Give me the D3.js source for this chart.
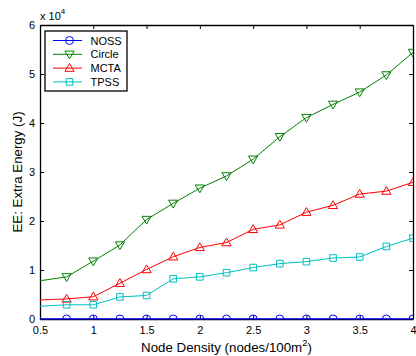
<!DOCTYPE html>
<html>
<head>
<meta charset="utf-8">
<script src="https://cdn.jsdelivr.net/npm/d3@7"></script>
<style>
  html, body { margin: 0; padding: 0; background: #fff; }
  svg { display: block; font-family: "Liberation Sans", Arial, Helvetica, sans-serif; }
</style>
</head>
<body>
<svg id="chart" width="416" height="356"></svg>
<script>
// Node density (nodes/100m^2)
const density = [0.5, 0.75, 1, 1.25, 1.5, 1.75, 2, 2.25, 2.5, 2.75, 3, 3.25, 3.5, 3.75, 4];

// Extra energy, in units of 1e4 J
const noss   = [0, 0, 0, 0, 0, 0, 0, 0, 0, 0, 0, 0, 0, 0, 0];
const circle = [0.78, 0.86, 1.18, 1.51, 2.03, 2.36, 2.67, 2.92, 3.26, 3.72, 4.11, 4.38, 4.63, 4.98, 5.44];
const mcta   = [0.39, 0.41, 0.455, 0.73, 1.01, 1.27, 1.46, 1.56, 1.83, 1.92, 2.18, 2.32, 2.55, 2.61, 2.79];
const tpss   = [0.26, 0.29, 0.29, 0.45, 0.48, 0.82, 0.86, 0.945, 1.05, 1.13, 1.17, 1.245, 1.265, 1.48, 1.65];

const seriesNames = ["NOSS", "Circle", "MCTA", "TPSS"];
const xTicks = [0.5, 1, 1.5, 2, 2.5, 3, 3.5, 4];
const yTicks = [0, 1, 2, 3, 4, 5, 6];

const series = [
  { name: seriesNames[0], values: noss,   color: "#0000ff", marker: "circle" },
  { name: seriesNames[1], values: circle, color: "#008000", marker: "tdown" },
  { name: seriesNames[2], values: mcta,   color: "#ff0000", marker: "tup" },
  { name: seriesNames[3], values: tpss,   color: "#00bfbf", marker: "square" }
];

const svg = d3.select("#chart");
const plot = { left: 40, right: 413, top: 25, bottom: 319 };

const x = d3.scaleLinear().domain([0.5, 4]).range([plot.left, plot.right]);
const y = d3.scaleLinear().domain([0, 6]).range([plot.bottom, plot.top]);

svg.append("defs").append("clipPath").attr("id", "plotClip")
  .append("rect")
  .attr("x", plot.left).attr("y", plot.top)
  .attr("width", plot.right - plot.left).attr("height", plot.bottom - plot.top);

// Marker shape drawn around (0,0)
function markerPath(kind) {
  const r = 4;
  if (kind === "circle") return d3.symbol(d3.symbolCircle, Math.PI * r * r)();
  if (kind === "square") return `M${-3.3},${-3.3}H3.3V3.3H-3.3Z`;
  if (kind === "tup") return `M0,${-4.6}L4.6,3.2L-4.6,3.2Z`;
  if (kind === "tdown") return `M0,4.6L4.6,-3.2L-4.6,-3.2Z`;
}

const fontTick = 11;
const numFmt = d3.format("");

// Axes (ticks inside, box on)
const gx = svg.append("g").attr("transform", `translate(0,${plot.bottom})`)
  .call(d3.axisBottom(x).tickValues(xTicks).tickSizeInner(-4).tickSizeOuter(0).tickPadding(5)
    .tickFormat(numFmt));
const gxTop = svg.append("g").attr("transform", `translate(0,${plot.top})`)
  .call(d3.axisTop(x).tickValues(xTicks).tickSizeInner(-4).tickSizeOuter(0).tickFormat(""));
const gy = svg.append("g").attr("transform", `translate(${plot.left},0)`)
  .call(d3.axisLeft(y).tickValues(yTicks).tickSizeInner(-4).tickSizeOuter(0).tickPadding(5)
    .tickFormat(numFmt));
const gyRight = svg.append("g").attr("transform", `translate(${plot.right},0)`)
  .call(d3.axisRight(y).tickValues(yTicks).tickSizeInner(-4).tickSizeOuter(0).tickFormat(""));

[gx, gxTop, gy, gyRight].forEach(g => {
  g.select(".domain").attr("stroke", "#000").attr("stroke-width", 1.3);
  g.selectAll(".tick line").attr("stroke", "#000").attr("stroke-width", 1);
  g.selectAll(".tick text").attr("fill", "#000").style("font-size", fontTick + "px")
    .style("font-family", "'Liberation Sans', Arial, sans-serif");
});
gx.selectAll(".tick text").attr("dy", "0.9em");

// Exponent label above the y axis
const expo = svg.append("text").attr("x", 40).attr("y", 20)
  .style("font-size", "11px").attr("fill", "#000");
expo.append("tspan").text("x 10");
expo.append("tspan").attr("dy", -6).style("font-size", "8px").text("4");

// Axis titles
svg.append("text")
  .attr("x", (plot.left + plot.right) / 2).attr("y", 352)
  .attr("text-anchor", "middle").style("font-size", "13.3px").attr("fill", "#000")
  .call(t => {
    t.append("tspan").text("Node Density (nodes/100m");
    t.append("tspan").attr("dy", -6).style("font-size", "9.5px").text("2");
    t.append("tspan").attr("dy", 6).text(")");
  });

svg.append("text")
  .attr("transform", `translate(22,${(plot.top + plot.bottom) / 2}) rotate(-90)`)
  .attr("text-anchor", "middle").style("font-size", "13.3px").attr("fill", "#000")
  .text("EE: Extra Energy (J)");

// Series lines and markers
const line = d3.line().x(d => x(d.x)).y(d => y(d.y));
const plotG = svg.append("g").attr("clip-path", "url(#plotClip)");

series.forEach(s => {
  const pts = density.map((d, i) => ({ x: d, y: s.values[i] }));
  plotG.append("path").datum(pts)
    .attr("d", line).attr("fill", "none")
    .attr("stroke", s.color).attr("stroke-width", 1);
  // markers start at the second sample
  plotG.selectAll(null).data(pts.slice(1)).enter().append("path")
    .attr("transform", d => `translate(${x(d.x)},${y(d.y)})`)
    .attr("d", markerPath(s.marker))
    .attr("fill", "none").attr("stroke", s.color).attr("stroke-width", 1);
});

// Redraw the bottom axis line on top of the NOSS series
svg.append("line")
  .attr("x1", plot.left).attr("x2", plot.right)
  .attr("y1", plot.bottom).attr("y2", plot.bottom)
  .attr("stroke", "#0000ff").attr("stroke-width", 1.2);

// Legend
const legend = svg.append("g").attr("transform", "translate(45,31)");
legend.append("rect").attr("width", 82).attr("height", 60)
  .attr("fill", "#fff").attr("stroke", "#000").attr("stroke-width", 1.3);
series.forEach((s, i) => {
  const ly = 9.5 + i * 13.8;
  const row = legend.append("g").attr("transform", `translate(0,${ly})`);
  row.append("line").attr("x1", 8).attr("x2", 37).attr("y1", 0).attr("y2", 0)
    .attr("stroke", s.color).attr("stroke-width", 1);
  row.append("path").attr("transform", "translate(24.5,0)")
    .attr("d", markerPath(s.marker)).attr("fill", "none")
    .attr("stroke", s.color).attr("stroke-width", 1);
  row.append("text").attr("x", 45.5).attr("y", 4)
    .style("font-size", "11px").attr("fill", "#000").text(s.name);
});
</script>
</body>
</html>
